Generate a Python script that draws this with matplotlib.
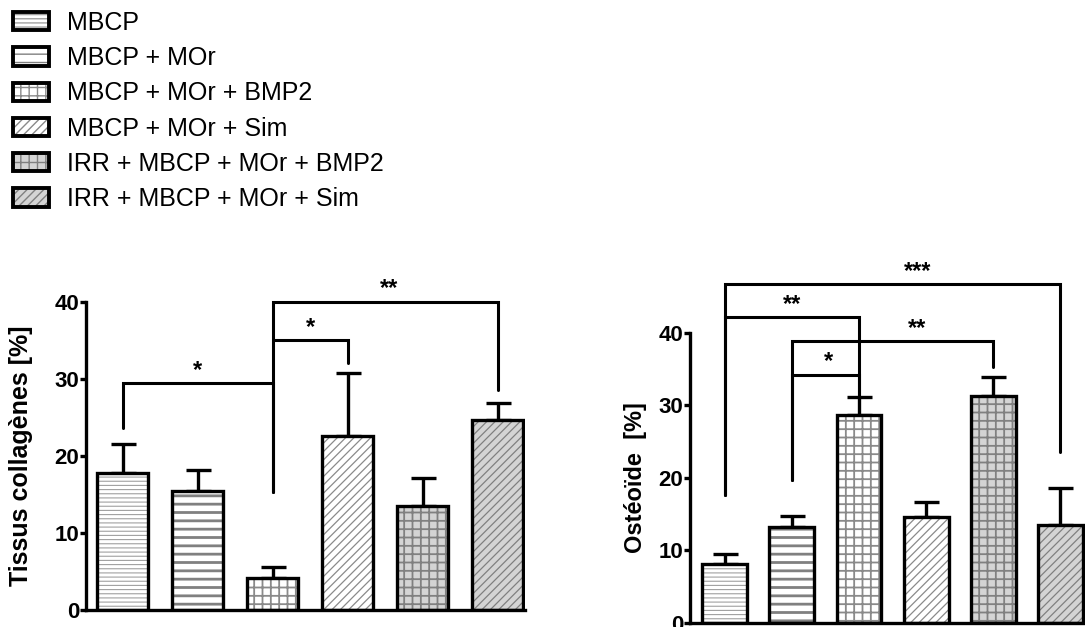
import matplotlib
matplotlib.use("Agg")
import matplotlib.pyplot as plt
from matplotlib.patches import Patch
from matplotlib.legend_handler import HandlerTuple

plt.rcParams['font.family'] = ['Liberation Sans', 'DejaVu Sans']

groups = ["MBCP", "MBCP + MOr", "MBCP + MOr + BMP2", "MBCP + MOr + Sim",
          "IRR + MBCP + MOr + BMP2", "IRR + MBCP + MOr + Sim"]

collagen_mean = [17.8, 15.5, 4.2, 22.6, 13.5, 24.7]
collagen_err = [3.7, 2.7, 1.4, 8.2, 3.6, 2.2]

osteoid_mean = [8.1, 13.2, 28.6, 14.6, 31.3, 13.5]
osteoid_err = [1.4, 1.5, 2.6, 2.0, 2.6, 5.1]

# brackets: (bar a, bar b, height, left leg end, right leg end, stars, star x)
collagen_sig = [(0, 2, 29.4, 23.6, 15.3, "*", 1.0),
                (2, 3, 35.0, 35.0, 32.1, "*", 2.5),
                (2, 5, 40.0, 15.3, 28.6, "**", 3.55)]
osteoid_sig = [(0, 5, 46.7, 17.6, 23.6, "***", 2.88),
               (0, 2, 42.1, 17.6, 31.2, "**", 1.0),
               (1, 4, 38.8, 19.7, 35.3, "**", 2.87),
               (1, 2, 34.2, 19.7, 31.2, "*", 1.55)]

# fill, hatch, hatch colour, hatch linewidth
styles = [("white", "----", "#a0a0a0", 0.8),
          ("white", "--", "#808080", 2.0),
          ("white", "++", "#8a8a8a", 1.3),
          ("white", "////", "#8a8a8a", 0.9),
          ("#d4d4d4", "++", "#808080", 1.3),
          ("#d4d4d4", "////", "#808080", 0.9)]

LW = 2.4


def hatched(ax, x, h, w, st):
    fc, hatch, hc, hlw = st
    with plt.rc_context({'hatch.linewidth': hlw}):
        b = ax.bar(x, h, w, color=fc, edgecolor=hc, hatch=hatch, linewidth=0, zorder=2)
    for p in b:
        if hasattr(p, "set_hatch_linewidth"):
            p.set_hatch_linewidth(hlw)
    ax.bar(x, h, w, color="none", edgecolor="black", linewidth=LW, zorder=3)


def panel(ax, mean, err, sig, ylabel, width, xlim, label_x, label_size):
    x = list(range(len(mean)))
    for i in x:
        hatched(ax, i, mean[i], width, styles[i])
    ax.errorbar(x, mean, yerr=[[0] * len(err), err], fmt="none", ecolor="black",
                elinewidth=LW, capsize=9, capthick=LW, zorder=1)
    for a, b, y, ya, yb, s, tx in sig:
        ax.plot([a, a, b, b], [ya, y, y, yb], color="black", lw=2.2,
                clip_on=False, solid_capstyle="round", solid_joinstyle="miter", zorder=4)
        ax.text(tx, y + 0.2, s, ha="center", va="bottom", fontsize=17,
                fontweight="bold")
    ax.set_xlim(*xlim)
    ax.set_ylim(0, 40)
    ax.set_yticks([0, 10, 20, 30, 40])
    ax.set_xticks([])
    for sp in ["top", "right"]:
        ax.spines[sp].set_visible(False)
    for sp in ["left", "bottom"]:
        ax.spines[sp].set_linewidth(LW)
    ax.tick_params(axis="y", length=4, width=LW, pad=1, labelsize=16)
    for t in ax.get_yticklabels():
        t.set_fontweight("bold")
    ax.set_ylabel(ylabel, fontsize=label_size, fontweight="bold")
    ax.yaxis.set_label_coords(label_x, 0.5)


fig = plt.figure(figsize=(10.85, 6.27), dpi=100)

ax1 = fig.add_axes([86 / 1085, 17 / 627, 439 / 1085, 308.3 / 627])
panel(ax1, collagen_mean, collagen_err, collagen_sig, "Tissus collagènes [%]",
      0.68, (-0.493, 5.36), -0.121, 18)

ax2 = fig.add_axes([690 / 1085, 4.3 / 627, 395 / 1085, 290 / 627])
panel(ax2, osteoid_mean, osteoid_err, osteoid_sig, "Ostéoïde  [%]",
      0.67, (-0.52, 5.37), -0.109, 17)

handles = []
for fc, hatch, hc, hlw in styles:
    p1 = Patch(facecolor=fc, edgecolor=hc, hatch=hatch, linewidth=0)
    p2 = Patch(facecolor="none", edgecolor="black", linewidth=LW + 0.4)
    handles.append((p1, p2))
fig.legend(handles, groups, loc="upper left", bbox_to_anchor=(13 / 1085, 1 - 11 / 627),
           frameon=False, fontsize=18, handlelength=1.45, handleheight=0.75,
           labelspacing=0.45, handletextpad=0.72, borderpad=0, borderaxespad=0,
           handler_map={tuple: HandlerTuple(ndivide=1)})

fig.savefig("out.png", dpi=100)
